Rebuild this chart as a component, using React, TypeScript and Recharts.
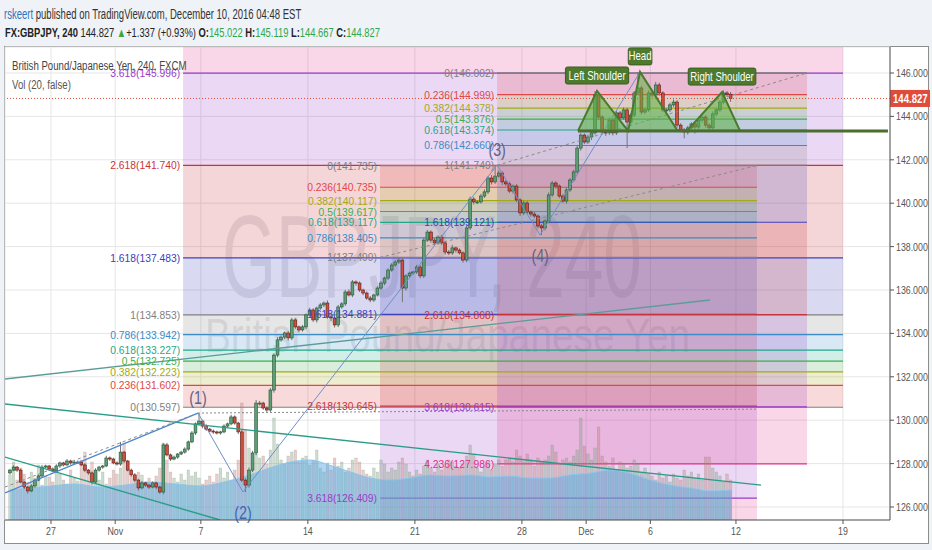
import React from 'react';
import {
  ComposedChart, Bar, Line, Area, XAxis, YAxis, CartesianGrid,
  ReferenceArea, ReferenceLine, ReferenceDot,
} from 'recharts';

const FONT = "'Liberation Sans', Arial, Helvetica, sans-serif";

// GBPJPY 4h closes (open = previous close)
const firstOpen = 127.57;
const closes = [
  127.70, 127.84, 127.70, 127.15, 126.92, 126.74, 126.97, 127.24, 127.43, 127.84,
  127.89, 127.75, 127.66, 127.89, 128.03, 127.94, 128.12, 128.03, 128.07, 128.07,
  127.94, 127.70, 127.57, 127.15, 127.70, 127.84, 127.89, 128.26, 128.21, 128.03,
  127.98, 128.53, 128.12, 127.70, 127.48, 127.24, 126.88, 127.11, 127.01, 126.92,
  127.11, 126.92, 126.69, 128.86, 128.40, 128.21, 128.30, 128.44, 128.53, 128.67,
  129.00, 129.41, 129.83, 129.96, 129.73, 129.59, 129.50, 129.46, 129.41, 129.46,
  129.73, 129.83, 130.15, 129.87, 129.46, 127.24, 127.01, 127.70, 128.49, 130.79,
  130.79, 130.56, 130.47, 131.39, 133.00, 133.70, 133.83, 134.02, 133.79, 134.62,
  134.30, 134.16, 134.30, 134.85, 135.08, 134.62, 135.17, 135.31, 135.40, 134.76,
  134.71, 134.39, 135.22, 135.36, 135.91, 135.77, 136.37, 136.32, 136.00, 135.86,
  135.63, 135.54, 135.77, 136.09, 136.32, 136.55, 136.92, 137.15, 137.29, 137.38,
  136.09, 136.65, 136.78, 136.83, 137.06, 136.65, 138.30, 138.67, 138.30, 138.17,
  138.44, 138.17, 137.75, 137.71, 137.94, 137.84, 137.71, 137.38, 138.86, 140.19,
  140.06, 140.06, 140.33, 140.52, 141.16, 140.98, 141.25, 141.39, 140.98, 140.89,
  140.56, 140.79, 140.15, 139.55, 140.01, 139.59, 139.50, 139.41, 138.95, 138.86,
  139.18, 140.38, 140.93, 140.79, 140.33, 140.10, 140.61, 141.07, 141.44, 142.54,
  143.14, 142.82, 143.05, 143.24, 144.99, 143.97, 143.28, 143.24, 143.83, 143.24,
  144.16, 143.93, 144.30, 143.74, 144.06, 145.08, 145.31, 144.20, 144.30, 145.08,
  144.99, 145.45, 145.08, 144.30, 144.30, 144.53, 144.66, 143.60, 143.37, 143.28,
  143.47, 143.65, 143.51, 143.83, 143.97, 143.60, 143.47, 144.11, 144.30, 144.66,
  145.08, 145.022, 144.827,
];
// wick lengths in hundredths of a yen
const upWicks = [
  6, 8, 5, 7, 6, 5, 8, 6, 7, 10, 6, 5, 7, 8, 6, 5, 9, 6, 5, 7,
  6, 8, 5, 7, 9, 6, 5, 10, 7, 6, 8, 47, 6, 5, 7, 8, 6, 9, 5, 6,
  7, 5, 6, 8, 10, 6, 7, 5, 6, 8, 6, 9, 7, 37, 6, 8, 5, 7, 6, 5,
  8, 6, 10, 7, 6, 9, 8, 12, 10, 14, 10, 6, 8, 10, 9, 12, 8, 7, 9, 10,
  8, 6, 9, 7, 10, 8, 6, 9, 7, 12, 8, 6, 9, 8, 10, 12, 9, 7, 8, 6,
  7, 9, 6, 8, 10, 7, 8, 9, 10, 12, 9, 8, 7, 6, 10, 9, 12, 10, 8, 9,
  8, 10, 7, 9, 14, 6, 8, 7, 10, 12, 9, 8, 10, 11, 9, 14, 50, 12, 8, 9,
  10, 7, 9, 8, 12, 9, 8, 10, 7, 9, 8, 12, 10, 9, 8, 10, 12, 9, 10, 14,
  10, 8, 12, 9, 18, 10, 9, 8, 12, 8, 10, 9, 12, 10, 8, 9, 74, 10, 9, 12,
  9, 14, 10, 8, 9, 10, 12, 9, 8, 10, 9, 8, 10, 9, 8, 10, 9, 12, 8, 10,
  12, 9, 10,
];
const downWicks = [
  7, 5, 8, 6, 9, 12, 6, 8, 5, 7, 6, 8, 5, 6, 9, 7, 5, 8, 6, 7,
  5, 9, 8, 12, 6, 7, 8, 5, 9, 6, 7, 8, 9, 6, 8, 10, 12, 7, 8, 9,
  6, 10, 8, 10, 7, 9, 6, 8, 5, 7, 8, 6, 9, 7, 10, 8, 6, 9, 7, 8,
  6, 9, 7, 8, 10, 10, 32, 12, 9, 10, 12, 8, 10, 9, 12, 10, 8, 9, 12, 10,
  9, 12, 8, 10, 7, 9, 12, 8, 10, 9, 14, 12, 10, 8, 9, 7, 10, 12, 9, 10,
  8, 10, 9, 7, 8, 10, 9, 8, 7, 9, 65, 12, 10, 8, 9, 11, 10, 9, 12, 10,
  9, 8, 12, 10, 9, 11, 8, 12, 10, 9, 12, 10, 8, 9, 10, 12, 9, 8, 14, 10,
  9, 12, 10, 14, 10, 9, 12, 10, 11, 33, 12, 10, 8, 12, 10, 9, 12, 10, 9, 10,
  12, 10, 9, 14, 8, 12, 10, 14, 9, 12, 10, 9, 8, 120, 10, 9, 8, 12, 10, 9,
  10, 9, 12, 10, 14, 10, 9, 12, 10, 29, 12, 10, 30, 9, 10, 12, 14, 9, 10, 9,
  10, 12, 16,
];
const volumes = [
  45, 58, 40, 52, 46, 38, 48, 42, 55, 35, 44, 43, 38, 53, 46, 40, 36, 50, 42, 39,
  60, 68, 50, 58, 44, 40, 48, 36, 42, 50, 46, 52, 77, 58, 44, 40, 48, 45, 38, 42,
  36, 44, 52, 77, 60, 48, 42, 38, 46, 40, 50, 44, 48, 42, 36, 40, 44, 38, 46, 52,
  42, 48, 40, 50, 60, 117, 90, 72, 58, 66, 62, 64, 56, 70, 102, 76, 60, 56, 64, 68,
  70, 58, 62, 64, 55, 60, 70, 52, 48, 57, 50, 62, 54, 58, 48, 52, 60, 62, 58, 50,
  46, 44, 52, 48, 60, 56, 48, 52, 50, 58, 62, 56, 48, 44, 50, 46, 54, 60, 52, 48,
  56, 50, 54, 60, 58, 54, 52, 56, 64, 75, 66, 52, 48, 54, 58, 50, 56, 60, 54, 60,
  62, 58, 70, 64, 58, 66, 60, 54, 62, 58, 60, 64, 75, 68, 56, 60, 62, 58, 64, 70,
  102, 74, 66, 60, 72, 93, 64, 58, 54, 62, 50, 58, 56, 52, 54, 60, 56, 48, 52, 46,
  44, 40, 48, 42, 44, 38, 46, 42, 40, 50, 44, 48, 42, 46, 40, 63, 63, 52, 48, 44,
  38, 46, 40,
];
// volume average (blue area), in trading days from 27 Oct
const volAvgDays = [-1.9, -1, 0, 1.1, 2.3, 3.5, 4.6, 5.8, 7, 8.1, 9.3, 10.2, 11.2, 12.1, 13, 14, 14.9, 15.8,
  16.8, 17.7, 18.6, 19.6, 20.5, 21.4, 22.4, 23.3, 24.2, 25.2, 26.1, 27, 28, 28.9, 29.9, 30.8, 31.8];
const volAvg = [30, 32, 34, 36, 33, 35, 38, 36, 34, 38, 45, 52, 58, 60, 55, 48, 42, 40,
  42, 45, 44, 45, 43, 44, 42, 42, 45, 47, 50, 47, 40, 35, 32, 29, 30];

const dateTicks = [0, 3, 7, 12, 17, 22, 25, 28, 32, 37];
const dateLabels = ['27', 'Nov', '7', '14', '21', '28', 'Dec', '6', '12', '19'];
const priceTicks = [126, 128, 130, 132, 134, 136, 138, 140, 142, 144, 146];
const lastPrice = 144.827;

const fibLevels = [0, 0.236, 0.382, 0.5, 0.618, 0.786, 1, 1.618, 2.618, 3.618, 4.236];
const fibColors = ['#808080', '#e04848', '#a3aa14', '#3fae49', '#1fa88a', '#3b8bc6', '#808080',
  '#4040c0', '#c8343c', '#9a3cc8', '#e0308c'];
const fibAPrices = [130.597, 131.602, 132.223, 132.725, 133.227, 133.942, 134.853, 137.483, 141.740, 145.996, 148.625];
const fibBPrices = [141.735, 140.735, 140.117, 139.617, 139.117, 138.405, 137.499, 134.881, 130.645, 126.409, 123.791];
const fibCPrices = [146.002, 144.999, 144.378, 143.876, 143.374, 142.660, 141.749, 139.121, 134.868, 130.615, 127.986];
const fibStart = [6.17, 15.37, 20.84];
const fibEnd = [37, 32.98, 35.32];

// drawn trend lines: [day, price] pairs
const tealUpper = [[-2.149, 131.9], [30.79, 135.54]];
const tealMid = [[-2.149, 130.747], [33.17, 127.01]];
const tealLow = [[-2.149, 128.3], [7.895, 125.4]];
const blueChannel = [[-2.149, 126.65], [6.868, 130.33]];
const dashedLow = [[-2.149, 126.92], [6.868, 130.33]];
const dottedFlat = [[6.868, 130.33], [32.98, 130.51]];
const dashedB = [[15.37, 137.499], [32.98, 141.735]];
const dashedC = [[20.84, 141.749], [35.32, 146.002]];

const waveDays = [6.868, 8.97, 20.84, 22.85, 27.52];
const wavePrices = [130.33, 126.69, 141.76, 138.53, 146.05];
const waveNames = ['(1)', '(2)', '(3)', '(4)'];

const hsDays = [24.62, 25.51, 26.96, 27.52, 29.25, 29.71, 31.35, 32.19];
const hsPrices = [143.33, 145.17, 143.33, 146.05, 143.37, 143.33, 145.12, 143.33];
const neckPrice = 143.33;
const neckEnd = 39.1;
const hsLabels = [
  { day: 25.51, price: 145.17, text: 'Left Shoulder' },
  { day: 27.52, price: 146.05, text: 'Head' },
  { day: 31.35, price: 145.12, text: 'Right Shoulder' },
];

const X_DOMAIN = [-2.149, 39.196];
const Y_DOMAIN = [125.401, 147.198];

const bars = closes.map((c, i) => {
  const open = i === 0 ? firstOpen : closes[i - 1];
  const high = Math.max(open, c) + upWicks[i] / 100;
  const low = Math.min(open, c) - downWicks[i] / 100;
  return { t: -2 + (i + 0.5) / 6, open, close: c, high, low, range: [low, high], vol: volumes[i] };
});

const toPts = (seg: number[][]) => seg.map(([t, p]) => ({ t, p }));

const fibs = [fibAPrices, fibBPrices, fibCPrices].map((prices, k) => ({
  prices, x1: fibStart[k], x2: fibEnd[k],
}));

const inY = (p: number) => p > Y_DOMAIN[0] && p < Y_DOMAIN[1];

const Candle = (props: any) => {
  const { x, y, width, height, payload } = props;
  if (!payload) return null;
  const top = Math.min(y, y + height);
  const h = Math.abs(height);
  const span = payload.high - payload.low;
  const k = span > 0 ? h / span : 0;
  const cx = x + width / 2;
  const yo = top + (payload.high - payload.open) * k;
  const yc = top + (payload.high - payload.close) * k;
  const up = payload.close >= payload.open;
  return (
    <g>
      <line x1={cx} x2={cx} y1={top} y2={top + h} stroke="#737375" strokeWidth={1} />
      <rect x={cx - 1.4} y={Math.min(yo, yc)} width={2.8} height={Math.max(Math.abs(yc - yo), 1)}
        fill={up ? '#5f9e74' : '#d05040'} stroke={up ? '#225437' : '#5b1a13'} strokeWidth={0.6} />
    </g>
  );
};

const VolBar = (props: any) => {
  const { x, y, width, height, payload } = props;
  if (!payload) return null;
  const top = Math.min(y, y + height);
  const up = payload.close >= payload.open;
  return (
    <rect x={x + width / 2 - 1.3} y={top} width={2.6} height={Math.abs(height)}
      fill={up ? 'rgba(125,170,130,0.4)' : 'rgba(200,125,118,0.38)'}
      stroke="rgba(110,110,110,0.3)" strokeWidth={0.5} />
  );
};

const XTick = (props: any) => {
  const { x, y, payload } = props;
  const label = dateLabels[dateTicks.indexOf(payload.value)];
  return (
    <text transform={`translate(${x},${y + 9}) scale(0.8,1)`} textAnchor="middle" fontSize={11}
      fill="#555" fontFamily={FONT}>{label}</text>
  );
};

const YTick = (props: any) => {
  const { x, y, payload } = props;
  return (
    <text transform={`translate(${x},${y + 4}) scale(0.8,1)`} textAnchor="start" fontSize={11}
      fill="#555" fontFamily={FONT}>{Number(payload.value).toFixed(3)}</text>
  );
};

const PriceTag = (props: any) => {
  const vb = props.viewBox || {};
  const right = (vb.x || 0) + (vb.width || 0);
  const y = vb.y || 0;
  return (
    <g>
      <rect x={right} y={y - 8.5} width={40} height={17} fill="#e04b3a" />
      <text transform={`translate(${right + 3},${y + 4.5}) scale(0.8,1)`} fontSize={12} fontWeight="bold"
        fill="#fff" fontFamily={FONT}>{lastPrice.toFixed(3)}</text>
    </g>
  );
};

export default function App() {
  const bands = fibs.flatMap((f, fi) =>
    fibLevels.slice(1).map((_, j) => (
      <ReferenceArea key={`b${fi}-${j}`} x1={f.x1} x2={f.x2} y1={f.prices[j]} y2={f.prices[j + 1]}
        fill={fibColors[j + 1]} fillOpacity={0.2} stroke="none" ifOverflow="hidden" zIndex={10} />
    )));
  const fibLines = fibs.flatMap((f, fi) =>
    f.prices.map((p, j) => inY(p) ? (
      <ReferenceLine key={`l${fi}-${j}`} segment={[{ x: f.x1, y: p }, { x: f.x2, y: p }]}
        stroke={fibColors[j]} strokeWidth={1.2} zIndex={20} />
    ) : null));
  const fibLabels = fibs.flatMap((f, fi) =>
    f.prices.map((p, j) => inY(p) ? (
      <ReferenceDot key={`t${fi}-${j}`} x={f.x1} y={p} r={0} zIndex={90}
        shape={(s: any) => (
          <text transform={`translate(${s.cx - 3},${s.cy + 4}) scale(0.92,1)`} textAnchor="end"
            fontSize={11.2} fill={fibColors[j]} fontFamily={FONT}>
            {`${fibLevels[j]}(${p.toFixed(3)})`}
          </text>
        )} />
    ) : null));

  const trend = (pts: number[][], color: string, w: number, dash?: string, key?: string) => (
    <Line key={key} data={toPts(pts)} dataKey="p" stroke={color} strokeWidth={w} strokeDasharray={dash}
      dot={false} isAnimationActive={false} zIndex={60} />
  );

  const hsArea = hsDays.map((t, i) => ({ t, r: [neckPrice, hsPrices[i]] }));
  const hsLine = hsDays.map((t, i) => ({ t, p: hsPrices[i] }));
  const wavePts = waveDays.map((t, i) => ({ t, p: wavePrices[i] }));
  const volAvgPts = volAvgDays.map((t, i) => ({ t, v: volAvg[i] }));

  return (
    <div style={{ position: 'relative', width: 932, height: 550, background: '#eff2f6', overflow: 'hidden', fontFamily: FONT }}>
      <style>{'body{margin:0}'}</style>
      <div style={{ position: 'absolute', left: 4, top: 46, width: 923, height: 496, background: '#fff', border: '1px solid #8d8d8d' }} />
      <svg width={932} height={550} style={{ position: 'absolute', left: 0, top: 0 }}>
        <text x={222} y={297} fontSize={116} textLength={420} lengthAdjust="spacingAndGlyphs"
          fill="#6c6c7c" fillOpacity={0.17} fontFamily={FONT}>GBPJPY, 240</text>
        <text x={205} y={352} fontSize={48} textLength={485} lengthAdjust="spacingAndGlyphs"
          fill="#6c6c7c" fillOpacity={0.17} fontFamily={FONT}>British Pound/Japanese Yen</text>
      </svg>
      <div style={{ position: 'absolute', left: 0, top: 0 }}>
        <ComposedChart width={932} height={550} data={bars} margin={{ top: 47, right: 0, bottom: 0, left: 5 }}>
          <CartesianGrid stroke="#e6e6e6" />
          <XAxis dataKey="t" type="number" domain={X_DOMAIN} ticks={dateTicks} interval={0} allowDataOverflow
            height={30} tick={<XTick />} tickSize={4} axisLine={{ stroke: '#555' }} tickLine={{ stroke: '#555' }} />
          <XAxis xAxisId="v" dataKey="t" type="number" domain={X_DOMAIN} allowDataOverflow hide />
          <YAxis orientation="right" type="number" domain={Y_DOMAIN} ticks={priceTicks} interval={0} allowDataOverflow
            width={42} tick={<YTick />} tickSize={4} axisLine={{ stroke: '#555' }} tickLine={{ stroke: '#555' }} />
          <YAxis yAxisId="v" type="number" domain={[0, 473]} allowDataOverflow hide />

          {bands}
          {fibLines}

          <Bar xAxisId="v" yAxisId="v" dataKey="vol" barSize={3} shape={<VolBar />} isAnimationActive={false} zIndex={30} />
          <Area xAxisId="v" yAxisId="v" data={volAvgPts} dataKey="v" type="monotone" fill="#58a9e6" fillOpacity={0.48}
            stroke="#8cc6ee" strokeWidth={1} isAnimationActive={false} zIndex={40} />

          <Bar dataKey="range" barSize={3} shape={<Candle />} isAnimationActive={false} zIndex={50} />

          <ReferenceLine y={lastPrice} stroke="#e04b3a" strokeDasharray="1 2" label={<PriceTag />} zIndex={55} />

          {trend(tealUpper, '#5c9c98', 1.4, undefined, 'tu')}
          {trend(tealMid, '#2a9d88', 1.4, undefined, 'tm')}
          {trend(tealLow, '#2a9d88', 1.4, undefined, 'tl')}
          {trend(blueChannel, '#4a86d0', 1.4, undefined, 'bc')}
          {trend(dashedLow, '#8a8a8a', 1, '3 3', 'dl')}
          {trend(dottedFlat, '#8a8a8a', 1, '2 2', 'df')}
          {trend(dashedB, '#8a8a8a', 1, '3 3', 'db')}
          {trend(dashedC, '#8a8a8a', 1, '3 3', 'dc')}
          <Line data={wavePts} dataKey="p" stroke="#6f8fc8" strokeWidth={1} dot={false} isAnimationActive={false} zIndex={60} />

          <Area data={hsArea} dataKey="r" type="linear" fill="#5cb040" fillOpacity={0.55} stroke="none"
            isAnimationActive={false} zIndex={70} />
          <Line data={hsLine} dataKey="p" type="linear" stroke="#4a7a2c" strokeWidth={2} dot={false}
            isAnimationActive={false} zIndex={80} />
          <Line data={[{ t: hsDays[0], p: neckPrice }, { t: neckEnd, p: neckPrice }]} dataKey="p" stroke="#4a6e2e"
            strokeWidth={3} dot={false} isAnimationActive={false} zIndex={80} />

          {fibLabels}

          {waveNames.map((name, i) => (
            <ReferenceDot key={name} x={waveDays[i]} y={wavePrices[i]} r={0} zIndex={90}
              shape={(s: any) => (
                <text transform={`translate(${s.cx},${s.cy + (i % 2 === 0 ? -9 : 27)}) scale(0.75,1)`} textAnchor="middle"
                  fontSize={19} fill={i === 1 ? '#3f68b4' : '#5c6488'} fontFamily={FONT}>{name}</text>
              )} />
          ))}

          {hsLabels.map((l) => (
            <ReferenceDot key={l.text} x={l.day} y={l.price} r={0} zIndex={90}
              shape={(s: any) => {
                const w = l.text.length * 4.4 + 6;
                return (
                  <g>
                    <rect x={s.cx - w / 2} y={s.cy - 24} width={w} height={17} rx={2} fill="#4d7a2d" stroke="#3b5e22" />
                    <text transform={`translate(${s.cx},${s.cy - 11.5}) scale(0.8,1)`} textAnchor="middle" fontSize={12}
                      fill="#fff" fontFamily={FONT}>{l.text}</text>
                  </g>
                );
              }} />
          ))}
        </ComposedChart>
      </div>

      <div style={{ position: 'absolute', left: 4, top: 6, fontSize: 14, color: '#333', whiteSpace: 'nowrap', transform: 'scaleX(0.68)', transformOrigin: '0 0' }}>
        <span style={{ color: '#2f72c0' }}>rskeert</span> published on TradingView.com, December 10, 2016 04:48 EST
      </div>
      <div style={{ position: 'absolute', left: 5, top: 25, fontSize: 13, color: '#222', whiteSpace: 'nowrap', transform: 'scaleX(0.72)', transformOrigin: '0 0' }}>
        <b>FX:GBPJPY, 240</b> 144.827 <span style={{ color: '#3aa648' }}>▲</span>+1.337 (+0.93%) <b>O:</b><span style={{ color: '#2ea84a' }}>145.022</span>{' '}
        <b>H:</b><span style={{ color: '#2ea84a' }}>145.119</span> <b>L:</b><span style={{ color: '#2ea84a' }}>144.667</span>{' '}
        <b>C:</b><span style={{ color: '#2ea84a' }}>144.827</span>
      </div>
      <div style={{ position: 'absolute', left: 12, top: 59, fontSize: 12.5, color: '#444', whiteSpace: 'nowrap', transform: 'scaleX(0.77)', transformOrigin: '0 0' }}>
        British Pound/Japanese Yen, 240, FXCM
      </div>
      <div style={{ position: 'absolute', left: 12, top: 78, fontSize: 12.5, color: '#555', whiteSpace: 'nowrap', transform: 'scaleX(0.77)', transformOrigin: '0 0' }}>
        Vol (20, false)
      </div>
    </div>
  );
}
